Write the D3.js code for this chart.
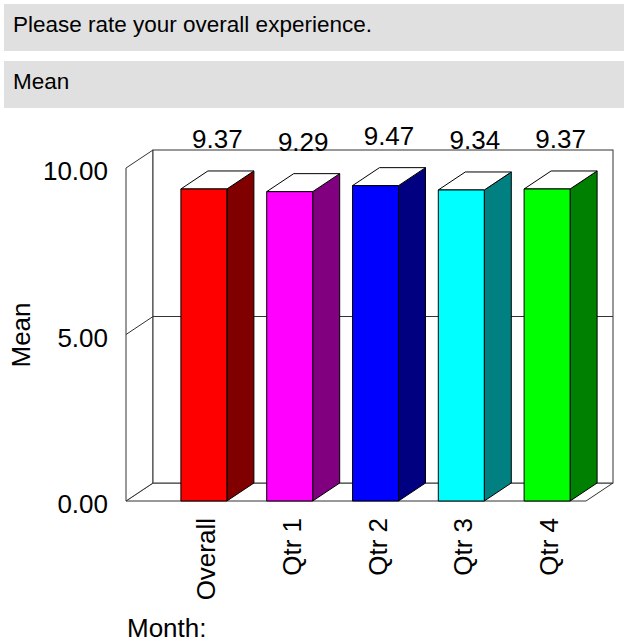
<!DOCTYPE html>
<html>
<head>
<meta charset="utf-8">
<script src="https://cdn.jsdelivr.net/npm/d3@7"></script>
<style>
  html, body { margin: 0; padding: 0; background: #fff; }
  svg { display: block; }
</style>
</head>
<body>
<svg id="chart"></svg>
<script>
const categories = ['Overall', 'Qtr 1', 'Qtr 2', 'Qtr 3', 'Qtr 4']
const means = [9.37, 9.29, 9.47, 9.34, 9.37]
const frontColors = ['#ff0000', '#ff00ff', '#0000ff', '#00ffff', '#00ff00']
const sideColors = ['#800000', '#800080', '#000080', '#008080', '#008000']
const yTicks = [0, 5, 10]
const headers = ['Please rate your overall experience.', 'Mean']

const width = 624, height = 644
const DX = 27, DY = 18   // depth offset of the 3D frame
const FONT = 'Liberation Sans, Arial, Helvetica, sans-serif'
const FS = 26

const svg = d3.select('#chart')
  .attr('width', width)
  .attr('height', height)
  .style('font-family', FONT)

// grey header bands
const head = svg.selectAll('g.head')
  .data(headers)
  .enter()
  .append('g')
  .attr('class', 'head')
  .attr('transform', (d, i) => `translate(4, ${4 + i * 57})`)

head.append('rect')
  .attr('width', width - 4)
  .attr('height', 47)
  .attr('fill', '#e0e0e0')

head.append('text')
  .attr('x', 9)
  .attr('y', 28)
  .attr('font-size', 22.5)
  .attr('fill', '#000')
  .text(d => d)

const y = d3.scaleLinear().domain([0, 10]).range([501, 168])
const x = d3.scaleBand()
  .domain(categories)
  .range([161, 590])
  .paddingInner(0.464)
  .paddingOuter(0.232)

const x0 = 126, x1 = 586
const frame = svg.append('g')
  .attr('fill', 'none')
  .attr('stroke', '#333')
  .attr('stroke-width', 1)

// floor
frame.append('path')
  .attr('fill', '#fff')
  .attr('d', `M${x0},${y(0)}L${x0 + DX},${y(0) - DY}L${x1 + DX},${y(0) - DY}L${x1},${y(0)}Z`)

// left wall
frame.append('path')
  .attr('fill', '#fff')
  .attr('d', `M${x0},${y(0)}L${x0},${y(10)}L${x0 + DX},${y(10) - DY}L${x0 + DX},${y(0) - DY}Z`)

// back wall
frame.append('rect')
  .attr('x', x0 + DX)
  .attr('y', y(10) - DY)
  .attr('width', x1 - x0)
  .attr('height', y(0) - y(10))
  .attr('fill', '#fff')

// grid lines on left and back walls
frame.selectAll('path.grid')
  .data(yTicks.filter(t => t > 0 && t < 10))
  .enter()
  .append('path')
  .attr('class', 'grid')
  .attr('d', t => `M${x0},${y(t)}L${x0 + DX},${y(t) - DY}L${x1 + DX},${y(t) - DY}`)

// y tick labels
svg.selectAll('text.tick')
  .data(yTicks)
  .enter()
  .append('text')
  .attr('class', 'tick')
  .attr('x', 108)
  .attr('y', t => y(t) + 3)
  .attr('text-anchor', 'end')
  .attr('dominant-baseline', 'central')
  .attr('font-size', FS)
  .text(d3.format('.2f'))

svg.append('text')
  .attr('transform', 'translate(21, 335) rotate(-90)')
  .attr('text-anchor', 'middle')
  .attr('dominant-baseline', 'central')
  .attr('font-size', FS)
  .text('Mean')

// bars
const bars = svg.selectAll('g.bar')
  .data(means)
  .enter()
  .append('g')
  .attr('class', 'bar')
  .attr('stroke', '#000')
  .attr('stroke-width', 1)
  .attr('stroke-linejoin', 'round')

const bw = x.bandwidth()
const bx = (d, i) => x(categories[i])

bars.append('path')   // side
  .attr('fill', (d, i) => sideColors[i])
  .attr('d', (d, i) => {
    const l = bx(d, i) + bw
    return `M${l},${y(0)}L${l},${y(d)}L${l + DX},${y(d) - DY}L${l + DX},${y(0) - DY}Z`
  })

bars.append('path')   // top
  .attr('fill', '#fff')
  .attr('d', (d, i) => {
    const l = bx(d, i)
    return `M${l},${y(d)}L${l + DX},${y(d) - DY}L${l + bw + DX},${y(d) - DY}L${l + bw},${y(d)}Z`
  })

bars.append('rect')   // front
  .attr('fill', (d, i) => frontColors[i])
  .attr('x', bx)
  .attr('y', d => y(d))
  .attr('width', bw)
  .attr('height', d => y(0) - y(d))

// value labels
svg.selectAll('text.value')
  .data(means)
  .enter()
  .append('text')
  .attr('class', 'value')
  .attr('x', (d, i) => bx(d, i) + bw / 2 + DX / 2)
  .attr('y', d => y(d) - DY - 23)
  .attr('text-anchor', 'middle')
  .attr('font-size', FS)
  .text(d3.format('.2f'))

// category labels
svg.selectAll('text.cat')
  .data(categories)
  .enter()
  .append('text')
  .attr('class', 'cat')
  .attr('transform', d => `translate(${x(d) + bw / 2 + 2}, 518) rotate(-90)`)
  .attr('text-anchor', 'end')
  .attr('dominant-baseline', 'central')
  .attr('font-size', FS)
  .text(d => d)

svg.append('text')
  .attr('x', 127)
  .attr('y', 637)
  .attr('font-size', FS)
  .text('Month:')
</script>
</body>
</html>
